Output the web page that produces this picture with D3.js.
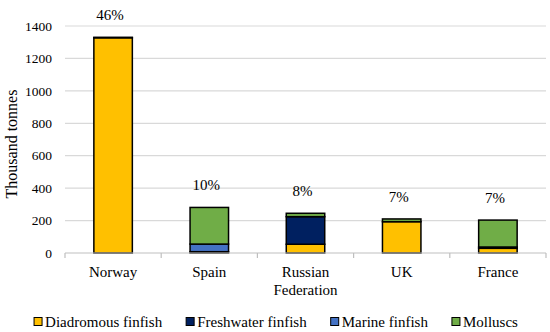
<!DOCTYPE html>
<html><head><meta charset="utf-8">
<script src="https://cdn.jsdelivr.net/npm/d3@7"></script>
<style>
body{margin:0;background:#fff;}
</style></head>
<body><svg id="c" width="550" height="332"></svg>
<script>
const categories = ["Norway","Spain","Russian Federation","UK","France"];
const diadromous = [1328, 8, 54, 193, 29];
const freshwater = [0, 0, 170, 0, 8];
const marine = [0, 47, 0, 0, 0];
const molluscs = [2, 226, 21, 17, 166];
const shares = ["46%","10%","8%","7%","7%"];
const seriesNames = ["Diadromous finfish","Freshwater finfish","Marine finfish","Molluscs"];
const seriesColors = ["#FFC000","#002060","#4472C4","#70AD47"];
const yTicks = [0,200,400,600,800,1000,1200,1400];

const FONT = "'Liberation Serif'";
const svg = d3.select("#c");
const m = {l:65, r:4, t:26, b:79};
const W = 550, H = 332;
const x = d3.scaleBand().domain(categories).range([m.l, W-m.r]).paddingInner(0.6).paddingOuter(0.3);
const xb = d3.scaleBand().domain(categories).range([m.l, W-m.r]).padding(0);
const y = d3.scaleLinear().domain([0,1400]).range([H-m.b, m.t]);

// gridlines
svg.append("g").selectAll("line").data(yTicks.filter(d=>d>0)).join("line")
  .attr("x1", m.l).attr("x2", W-m.r).attr("y1", d=>y(d)).attr("y2", d=>y(d))
  .attr("stroke","#d9d9d9").attr("stroke-width",1.2);

// y tick labels
svg.append("g").selectAll("text").data(yTicks).join("text")
  .attr("x", 52).attr("y", d=>y(d)).attr("dy","0.35em").attr("text-anchor","end")
  .style("font-family",FONT).style("font-size","13.5px").text(d=>d);

// stacked bars
const table = categories.map((c,i)=>({cat:c, s0:diadromous[i], s1:freshwater[i], s2:marine[i], s3:molluscs[i]}));
const stack = d3.stack().keys(["s0","s1","s2","s3"])(table);
stack.forEach((layer,k)=>{
  svg.append("g").selectAll("rect").data(layer.filter(d=>d[1]-d[0]>0)).join("rect")
    .attr("x", d=>x(d.data.cat)).attr("width", x.bandwidth())
    .attr("y", d=>y(d[1])).attr("height", d=>Math.max(0.5, y(d[0])-y(d[1])))
    .attr("fill", seriesColors[k]).attr("stroke","#000").attr("stroke-width",1.5);
});

// x axis line and ticks
svg.append("line").attr("x1", m.l).attr("x2", W-m.r).attr("y1", y(0)).attr("y2", y(0))
  .attr("stroke","#bfbfbf").attr("stroke-width",1.2);
const bounds = categories.map(c=>xb(c)).concat([W-m.r]);
svg.append("g").selectAll("line").data(bounds).join("line")
  .attr("x1", d=>d).attr("x2", d=>d).attr("y1", y(0)).attr("y2", y(0)+5)
  .attr("stroke","#bfbfbf").attr("stroke-width",1.2);

// category labels
const cl = svg.append("g").selectAll("text").data(categories).join("text")
  .attr("x", d=>xb(d)+xb.bandwidth()/2).attr("y", 277).attr("text-anchor","middle")
  .style("font-family",FONT).style("font-size","15px");
cl.each(function(d){
  const words = d.split(" ");
  const t = d3.select(this);
  words.forEach((w,i)=>t.append("tspan").attr("x", xb(d)+xb.bandwidth()/2).attr("dy", i===0?0:18).text(w));
});

// share labels
const totals = table.map(d=>d.s0+d.s1+d.s2+d.s3);
svg.append("g").selectAll("text").data(categories).join("text")
  .attr("x", d=>x(d)+x.bandwidth()/2-3).attr("y", (d,i)=>y(totals[i])-17)
  .attr("text-anchor","middle").style("font-family",FONT).style("font-size","15px").text((d,i)=>shares[i]);

// y title
svg.append("text").attr("transform","translate(17,144) rotate(-90)")
  .attr("text-anchor","middle").style("font-family",FONT).style("font-size","16px").text("Thousand tonnes");

// legend
const lg = svg.append("g");
let cx = 0;
seriesNames.forEach((n,i)=>{
  const g = lg.append("g");
  g.append("rect").attr("x",0).attr("y",-4.5).attr("width",8).attr("height",8)
    .attr("fill",seriesColors[i]).attr("stroke","#000").attr("stroke-width",1);
  const t = g.append("text").attr("x",11).attr("y",0).attr("dy","0.35em")
    .style("font-family",FONT).style("font-size","15px").text(n);
  const w = 11 + t.node().getComputedTextLength();
  g.attr("transform",`translate(${cx},322)`);
  cx += w + 24;
});
const total = cx - 24;
lg.attr("transform",`translate(${(W-total)/2+1},0)`);
</script></body></html>
